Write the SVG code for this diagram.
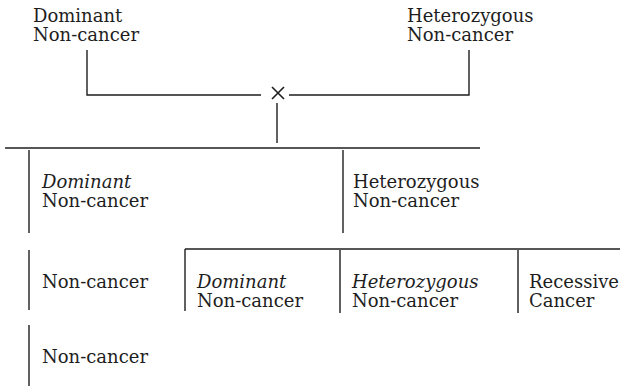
<svg xmlns="http://www.w3.org/2000/svg" width="624" height="386" viewBox="0 0 624 386">
<style>
text{font-family:"DejaVu Serif","Liberation Serif",serif;font-size:18px;fill:#1e1e1e}
.i{font-style:italic}
.c line,.c path{stroke:#1e1e1e;stroke-width:1.4;fill:none}
</style>
<rect width="624" height="386" fill="#fff"/>
<g class="c" id="connectors">
<path d="M87 50V95H261"/>
<path d="M289 95H469V50"/>
<path d="M272 87L284 99M284 87L272 99" style="stroke-width:1.6"/>
<line x1="277" y1="103" x2="277" y2="143"/>
<line x1="5" y1="148" x2="480" y2="148"/>
<line x1="29" y1="150" x2="29" y2="233"/>
<line x1="343" y1="150" x2="343" y2="233"/>
<line x1="29" y1="250" x2="29" y2="310"/>
<line x1="185" y1="249" x2="620" y2="249"/>
<line x1="185" y1="249" x2="185" y2="311"/>
<line x1="340" y1="250" x2="340" y2="313"/>
<line x1="518" y1="250" x2="518" y2="313"/>
<line x1="29" y1="325" x2="29" y2="386"/>
</g>
<g id="p1"><text x="33" y="22">Dominant<tspan x="33" dy="19">Non-cancer</tspan></text></g>
<g id="p2"><text x="407" y="22">Heterozygous<tspan x="407" dy="19">Non-cancer</tspan></text></g>
<g id="c1"><text x="42" y="188"><tspan class="i">Dominant</tspan><tspan x="42" dy="19">Non-cancer</tspan></text></g>
<g id="c2"><text x="353" y="188">Heterozygous<tspan x="353" dy="19">Non-cancer</tspan></text></g>
<g id="c3"><text x="42" y="288">Non-cancer</text></g>
<g id="c4"><text x="42" y="363">Non-cancer</text></g>
<g id="g1"><text x="197" y="288"><tspan class="i">Dominant</tspan><tspan x="197" dy="19">Non-cancer</tspan></text></g>
<g id="g2"><text x="352" y="288"><tspan class="i">Heterozygous</tspan><tspan x="352" dy="19">Non-cancer</tspan></text></g>
<g id="g3"><text x="529" y="288">Recessive<tspan x="529" dy="19">Cancer</tspan></text></g>
</svg>
